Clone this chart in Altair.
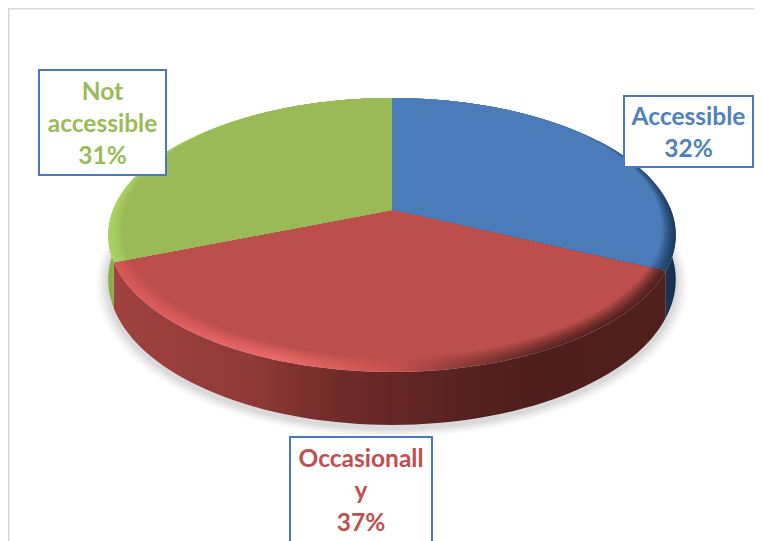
import math
import altair as alt
import pandas as pd

# chart values
names = ["Accessible", "Occasionally", "Not accessible"]
shares = [32, 37, 31]
face_colors = ["#4a7cb9", "#bc4e4b", "#9aba58"]
text_colors = ["#4f81bd", "#c0504d", "#9bbb59"]
label_lines = [["Accessible", "32%"], ["Occasionall", "y", "37%"], ["Not", "accessible", "31%"]]

# view geometry of the tilted pie
W, H = 746, 533
CX, CY = 384, 202      # pie centre inside the plot
AX, BY = 279, 132.4    # pixels per model unit
K = 0.1825             # perspective strength
DEPTH = 0.327          # thickness of the pie
x_scale = alt.Scale(domain=[-CX / AX, (W - CX) / AX], nice=False, zero=False)
y_scale = alt.Scale(domain=[-CY / BY, (H - CY) / BY], nice=False, zero=False, reverse=True)


def project(u, v, drop=0.0):
    f = 1 - K * v
    return u / f, (v + drop) / f


def edge(theta, w=0.0):
    a = math.radians(theta)
    s, c = math.sin(a), -math.cos(a)
    if c >= 0:
        rim = 0.04 + 0.035 * c
    else:
        rim = 0.04 * (1 + c) ** 1.5
    r = 1 - w * rim
    return r * s, r * c


def arc(t0, t1, n=70):
    return [t0 + (t1 - t0) * i / n for i in range(n + 1)]


def grad(stops):
    return alt.Gradient(
        gradient="linear", x1=0, x2=1, y1=0, y2=0,
        stops=[alt.GradientStop(color=c, offset=o) for o, c in stops],
    )


def poly(points, **mark):
    df = pd.DataFrame({"x": [p[0] for p in points], "y": [p[1] for p in points],
                       "i": list(range(len(points)))})
    return alt.Chart(df).mark_line(strokeWidth=0, interpolate="linear", **mark).encode(
        x=alt.X("x:Q", scale=x_scale, axis=None),
        y=alt.Y("y:Q", scale=y_scale, axis=None),
        order="i:Q",
    )


def mix(a, b, t):
    ca = [int(a[i:i + 2], 16) for i in (1, 3, 5)]
    cb = [int(b[i:i + 2], 16) for i in (1, 3, 5)]
    return "#" + "".join(f"{round(p + (q - p) * t):02x}" for p, q in zip(ca, cb))


# slice angles from the shares, clockwise from the top
bounds = [0]
for s in shares:
    bounds.append(bounds[-1] + 360 * s / sum(shares))

layers = []

# frame
layers.append(alt.Chart(pd.DataFrame({"a": [0]})).mark_rect(
    fill="white", stroke="#d9d9d9", strokeWidth=2
).encode(x=alt.value(0.5), x2=alt.value(900), y=alt.value(0.5), y2=alt.value(900)))

# soft shadow
for sc, op in [(1.04, 0.05), (1.03, 0.06), (1.02, 0.08), (1.01, 0.1)]:
    pts = [project(sc * edge(t)[0], sc * edge(t)[1], DEPTH + 0.02) for t in arc(0, 360, 140)]
    layers.append(poly(pts, fill="#777777", fillOpacity=op))

# side walls
wall_ranges = [(55, bounds[1]), (bounds[1], bounds[2]), (bounds[2], 305)]
wall_fills = [
    grad([(0, "#2a4f7c"), (0.6, "#1d3a5e"), (1, "#17304f")]),
    grad([(0, "#a04240"), (0.25, "#8f3a38"), (0.42, "#6e2a28"), (0.6, "#5a2321"),
          (0.75, "#4e1e1c"), (1, "#4f1f1c")]),
    grad([(0, "#8aad48"), (1, "#94b552")]),
]
for (t0, t1), fill in zip(wall_ranges, wall_fills):
    top = [project(*edge(t)) for t in arc(t0, t1)]
    low = [project(*edge(t), DEPTH) for t in arc(t1, t0)]
    layers.append(poly(top + low, fill=fill))

# top faces with a soft bevel along the rim
rim_stops = [
    [(0, "#4a7cb9"), (0.6, "#456fa6"), (0.85, "#2f5480"), (1, "#1d3b60")],
    [(0, "#d65756"), (0.3, "#ea6a68"), (0.5, "#c9524f"), (0.62, "#8f3b38"),
     (0.78, "#5f2523"), (1, "#4f1f1c")],
    [(0, "#aad462"), (0.3, "#a3c85c"), (0.6, "#9aba58"), (1, "#9aba58")],
]
steps = 7
for idx, base in enumerate(face_colors):
    t0, t1 = bounds[idx], bounds[idx + 1]
    for j in range(steps):
        w = j / (steps - 1)
        pts = [(0.0, 0.0)] + [project(*edge(t, w)) for t in arc(t0, t1)]
        weight = w ** 1.2
        stops = [(o, mix(c, base, weight)) for o, c in rim_stops[idx]]
        layers.append(poly(pts, fill=grad(stops)))

# label boxes (pixel position inside the plot: left, right, top, bottom, centre y of first line)
boxes = [(616, 745, 88, 159, 110), (282, 424, 429, 560, 452), (31, 158, 62, 167, 85)]
LINE = 32
for (x0, x1, y0, y1, first), lines, color in zip(boxes, label_lines, text_colors):
    layers.append(alt.Chart(pd.DataFrame({"a": [0]})).mark_rect(
        fill="white", stroke="#4a78c8", strokeWidth=2
    ).encode(x=alt.value(x0), x2=alt.value(x1), y=alt.value(y0), y2=alt.value(y1)))
    for n, line in enumerate(lines):
        layers.append(alt.Chart(pd.DataFrame({"t": [line]})).mark_text(
            font="Lato", fontWeight="bold", fontSize=24.5, color=color,
            align="center", baseline="middle"
        ).encode(x=alt.value((x0 + x1) / 2), y=alt.value(first + n * LINE), text="t:N"))

chart = alt.layer(*layers).properties(
    width=W, height=H, padding=0, background="white",
    autosize=alt.AutoSizeParams(type="none"),
).configure_view(stroke=None)

chart.save("out.html", embed_options={"renderer": "svg", "actions": False})
